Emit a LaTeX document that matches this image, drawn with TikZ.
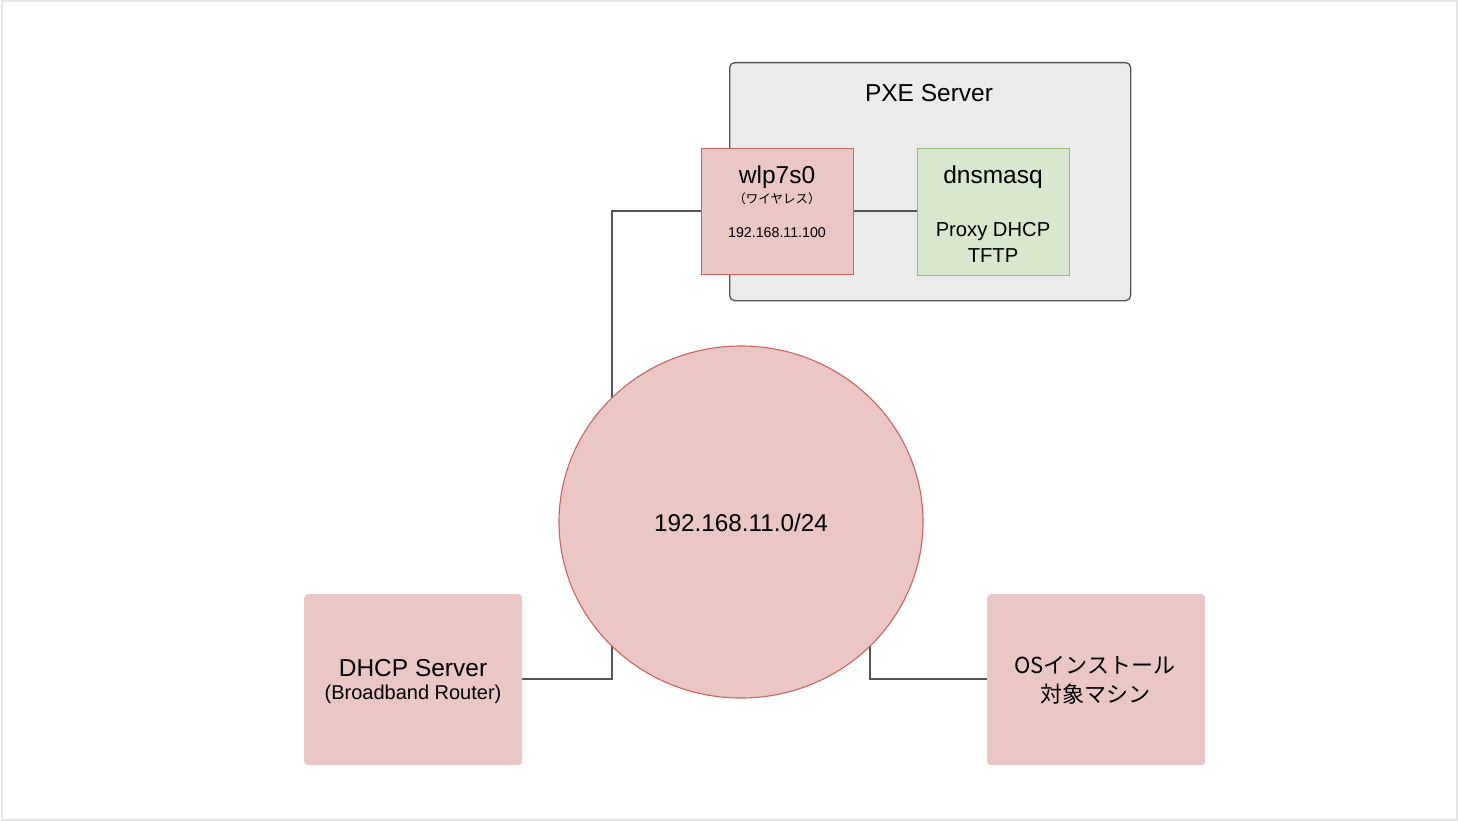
\documentclass[tikz,border=0pt]{standalone}
\usepackage{fontspec}
\setmainfont{Liberation Sans}
\newfontfamily\jpfont{Noto Sans CJK JP}
\usetikzlibrary{shapes.geometric}
\definecolor{redfill}{HTML}{EAC7C5}
\definecolor{redline}{HTML}{C86460}
\definecolor{greenfill}{HTML}{D9E7CF}
\definecolor{greenline}{HTML}{94BC78}
\definecolor{grayfill}{HTML}{EBEBEB}
\definecolor{grayline}{HTML}{555555}
\definecolor{wire}{HTML}{555555}
\definecolor{frame}{HTML}{E6E6E6}
\tikzset{
  fs/.style={font=\fontsize{#1}{#1}\selectfont},
  box/.style={rectangle, inner sep=0pt, align=center},
  wirestyle/.style={draw=wire, line width=1.2pt},
}
\begin{document}
\begin{tikzpicture}[x=1pt,y=-1pt]
\useasboundingbox (0,0) rectangle (1458,821);
\fill[white] (0,0) rectangle (1458,821);
\draw[frame, line width=2pt] (1.5,1.5) rectangle (1456.5,819.5);

% PXE server container
\node[box, draw=grayline, fill=grayfill, line width=1.3pt, rounded corners=5pt,
      minimum width=401pt, minimum height=238pt, anchor=north west] (pxe) at (729,62) {};
\node[fs=24.5] (pxetitle) at (929,93) {PXE Server};

% wire corner points
\coordinate (c) at (741,522);
\coordinate (k1) at (612,211);
\coordinate (k2) at (612,679);
\coordinate (k3) at (870,679);

% wlp7s0
\node[box, draw=redline, fill=redfill, line width=1.2pt,
      minimum width=152pt, minimum height=126pt, anchor=north west] (wlp) at (701,148) {};
\node[fs=24.5] (wlpname) at (777,177) {wlp7s0};
\node[fs=12.5] (wlpjp) at (777,199) {\jpfont （ワイヤレス）};
\node[fs=14.2] (wlpip) at (777,233) {192.168.11.100};

% dnsmasq
\node[box, draw=greenline, fill=greenfill, line width=1.2pt,
      minimum width=152pt, minimum height=127pt, anchor=north west] (dns) at (917,148) {};
\node[fs=24.5] (dnsname) at (993,177) {dnsmasq};
\node[fs=20.2] (dnssvc1) at (993,232) {Proxy DHCP};
\node[fs=20.2] (dnssvc2) at (993,256) {TFTP};

\draw[wirestyle] (wlp.east |- 0,211) -- (dns.west |- 0,211);

% DHCP server
\node[box, fill=redfill, rounded corners=4pt,
      minimum width=218pt, minimum height=171pt, anchor=north west] (dhcp) at (304,594) {};
\node[fs=24.5] (dhcpname) at (413,668) {DHCP Server};
\node[fs=20] (dhcpsub) at (413,694) {(Broadband Router)};

% OS target
\node[box, fill=redfill, rounded corners=4pt,
      minimum width=218pt, minimum height=171pt, anchor=north west] (os) at (987,594) {};
\node[fs=22] (osl1) at (1095,665) {\jpfont OSインストール};
\node[fs=22] (osl2) at (1095,694) {\jpfont 対象マシン};

% wires to network
\draw[wirestyle] (wlp.west |- k1) -- (k1) -- (612,420);
\draw[wirestyle] (dhcp.east |- k2) -- (k2) -- (612,620);
\draw[wirestyle] (os.west |- k3) -- (k3) -- (870,620);

% network circle
\node[ellipse, draw=redline, fill=redfill, line width=1.1pt,
      minimum width=364pt, minimum height=352pt, inner sep=0pt] (net) at (c) {};
\node[fs=24.3] (netlabel) at (741,523) {192.168.11.0/24};
\end{tikzpicture}
\end{document}
